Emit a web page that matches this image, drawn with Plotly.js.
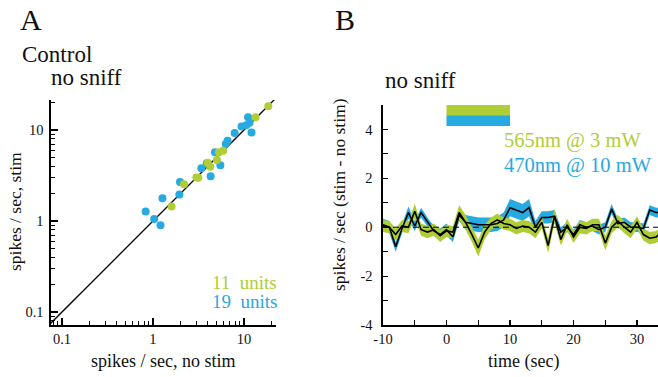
<!DOCTYPE html>
<html><head><meta charset="utf-8">
<script src="https://cdn.plot.ly/plotly-3.0.1.min.js"></script>
<style>html,body{margin:0;padding:0;background:#fff}#chart{width:658px;height:377px}</style>
</head><body><div id="chart"></div>
<script>
const W = 658, H = 377;
const GREEN = '#afcd35', BLUE = '#27a9e1';
const SERIF = '"Liberation Serif", "Times New Roman", serif';

// ---------- Panel A: scatter data ----------
const blueNoStim = [0.83, 1.03, 1.21, 1.27, 1.95, 1.98, 3.4, 4.3, 4.8, 5.5, 6.3, 6.6, 7.9, 9.4, 11.1, 10.6, 12.1, 11.5, 3.9];
const blueStim   = [1.27, 1.05, 0.90, 1.78, 1.95, 2.68, 3.8, 3.1, 5.7, 4.1, 7.0, 7.6, 9.3, 10.9, 13.8, 11.3, 9.4, 12.0, 4.3];
const greenNoStim = [1.6, 2.19, 3.0, 3.15, 4.0, 4.25, 5.05, 5.3, 5.9, 13.4, 18.5];
const greenStim   = [1.44, 2.53, 3.0, 2.98, 4.37, 3.94, 4.67, 5.7, 5.9, 13.8, 18.3];
const unityLine = [0.07, 22];
const logTickVals = [0.1, 1, 10];
const logTickText = ['0.1', '1', '10'];
const logMinorVals = [0.08, 0.09, 0.2, 0.3, 0.4, 0.5, 0.6, 0.7, 0.8, 0.9, 2, 3, 4, 5, 6, 7, 8, 9, 20];

// ---------- Panel B: time course ----------
const time = [-10,-9,-8,-7,-6,-5,-4,-3,-2,-1,0,1,2,3,4,5,6,7,8,9,10,11,12,13,14,15,16,17,18,19,20,21,22,23,24,25,26,27,28,29,30,31,32,33,34];
const blueMean = [0.1,0.0,-0.8,-0.05,0.6,0.05,0.6,0.2,-0.15,-0.3,-0.1,-0.4,0.5,0.2,0.15,0.1,0.1,0.1,0.15,0.3,0.8,0.7,0.6,0.8,0.0,0.4,0.4,0.45,-0.2,0.0,-0.3,0.1,0.0,0.05,-0.1,0.0,0.75,0.15,0.2,0.0,0.0,-0.05,0.7,0.6,0.6];
const blueSem  = [0.25,0.25,0.2,0.2,0.25,0.2,0.2,0.2,0.2,0.25,0.25,0.2,0.25,0.3,0.3,0.3,0.3,0.3,0.3,0.3,0.35,0.35,0.35,0.35,0.25,0.25,0.25,0.25,0.2,0.2,0.2,0.2,0.2,0.2,0.2,0.2,0.2,0.2,0.2,0.2,0.2,0.2,0.2,0.2,0.2];
const greenMean = [0.05,0.0,-0.3,0.05,0.0,0.65,-0.1,-0.2,-0.1,-0.35,-0.15,-0.2,0.6,0.2,-0.3,-0.85,-0.2,0.15,0.3,0.15,0.1,-0.05,0.05,0.0,-0.2,0.2,-0.75,0.45,-0.5,0.1,-0.4,0.0,-0.05,0.1,0.1,-0.65,0.0,0.25,0.0,-0.2,0.2,-0.3,-0.45,-0.4,-0.2];
const greenSem  = [0.25,0.25,0.25,0.25,0.25,0.3,0.25,0.25,0.25,0.25,0.25,0.25,0.3,0.3,0.3,0.35,0.3,0.25,0.25,0.25,0.25,0.25,0.25,0.25,0.25,0.25,0.3,0.3,0.25,0.25,0.25,0.25,0.25,0.25,0.25,0.3,0.25,0.25,0.25,0.25,0.25,0.25,0.25,0.25,0.25];
const stimWindow = [0, 10];
const xTickVals = [-10, 0, 10, 20, 30];
const xTickText = ['-10', '0', '10', '20', '30'];
const yTickVals = [-4, -2, 0, 2, 4];
const yTickText = ['-4', '-2', '0', '2', '4'];

const upper = (m, s) => m.map((v, i) => v + s[i]);
const lower = (m, s) => m.map((v, i) => v - s[i]);
const bandX = time.concat(time.slice().reverse());
const band = (m, s) => upper(m, s).concat(lower(m, s).reverse());

const traces = [
  {x: unityLine, y: unityLine, xaxis: 'x', yaxis: 'y', mode: 'lines', line: {color: '#000', width: 1.3}, hoverinfo: 'skip'},
  {x: blueNoStim, y: blueStim, xaxis: 'x', yaxis: 'y', mode: 'markers', marker: {color: BLUE, size: 8}},
  {x: greenNoStim, y: greenStim, xaxis: 'x', yaxis: 'y', mode: 'markers', marker: {color: GREEN, size: 8}},
  {x: bandX, y: band(blueMean, blueSem), xaxis: 'x2', yaxis: 'y2', mode: 'lines', fill: 'toself', fillcolor: BLUE, line: {width: 0}},
  {x: bandX, y: band(greenMean, greenSem), xaxis: 'x2', yaxis: 'y2', mode: 'lines', fill: 'toself', fillcolor: GREEN, line: {width: 0}},
  {x: [time[0], time[time.length - 1]], y: [0, 0], xaxis: 'x2', yaxis: 'y2', mode: 'lines', line: {color: '#000', width: 1, dash: '6px,4px'}},
  {x: time, y: blueMean, xaxis: 'x2', yaxis: 'y2', mode: 'lines', line: {color: '#000', width: 1.6}},
  {x: time, y: greenMean, xaxis: 'x2', yaxis: 'y2', mode: 'lines', line: {color: '#000', width: 1.6}}
];

const fx = p => p / W, fy = p => 1 - p / H;
const tf = {family: SERIF, size: 14.5, color: '#111'};
const ann = (text, x, y, size, color, extra) => Object.assign({
  text, x: fx(x), y: fy(y), xref: 'paper', yref: 'paper', xanchor: 'center', yanchor: 'middle',
  showarrow: false, font: {family: SERIF, size, color: color || '#111'}}, extra || {});

const layout = {
  width: W, height: H,
  margin: {l: 0, r: 0, t: 0, b: 0},
  paper_bgcolor: '#fff', plot_bgcolor: '#fff',
  showlegend: false,
  xaxis: {
    type: 'log', domain: [fx(51), fx(276)], range: [-1.121, 1.352], anchor: 'y',
    showline: true, linecolor: '#000', linewidth: 1.6, showgrid: false, zeroline: false,
    tickmode: 'array', tickvals: logTickVals, ticktext: logTickText,
    ticks: 'inside', ticklen: 7, tickwidth: 1.2, tickcolor: '#000', tickfont: tf, ticklabelstandoff: 0,
    minor: {tickmode: 'array', tickvals: logMinorVals, ticks: 'inside', ticklen: 4, tickwidth: 1, tickcolor: '#000'}
  },
  yaxis: {
    type: 'log', domain: [fy(325), fy(100)], range: [-1.143, 1.33], anchor: 'x',
    showline: true, linecolor: '#000', linewidth: 1.6, showgrid: false, zeroline: false,
    tickmode: 'array', tickvals: logTickVals, ticktext: logTickText,
    ticks: 'inside', ticklen: 7, tickwidth: 1.2, tickcolor: '#000', tickfont: tf, ticklabelstandoff: 3,
    minor: {tickmode: 'array', tickvals: logMinorVals, ticks: 'inside', ticklen: 4, tickwidth: 1, tickcolor: '#000'}
  },
  xaxis2: {
    domain: [fx(383), 1], range: [-10, 33.3], anchor: 'y2',
    showline: true, linecolor: '#000', linewidth: 1.6, showgrid: false, zeroline: false,
    tickmode: 'array', tickvals: xTickVals, ticktext: xTickText,
    ticks: 'inside', ticklen: 5, tickwidth: 1.2, tickcolor: '#000', tickfont: tf, ticklabelstandoff: 0,
    minor: {dtick: 5, ticks: 'inside', ticklen: 5, tickwidth: 1.2, tickcolor: '#000'}
  },
  yaxis2: {
    domain: [fy(325), fy(105)], range: [-4, 5], anchor: 'x2',
    showline: true, linecolor: '#000', linewidth: 1.6, showgrid: false, zeroline: false,
    tickmode: 'array', tickvals: yTickVals, ticktext: yTickText,
    ticks: 'inside', ticklen: 5, tickwidth: 1.2, tickcolor: '#000', tickfont: tf, ticklabelstandoff: 6,
    minor: {dtick: 1, ticks: 'inside', ticklen: 5, tickwidth: 1.2, tickcolor: '#000'}
  },
  shapes: [
    {type: 'rect', xref: 'x2', yref: 'y2', x0: stimWindow[0], x1: stimWindow[1], y0: 4.58, y1: 5.0, fillcolor: GREEN, line: {width: 0}},
    {type: 'rect', xref: 'x2', yref: 'y2', x0: stimWindow[0], x1: stimWindow[1], y0: 4.14, y1: 4.58, fillcolor: BLUE, line: {width: 0}}
  ],
  annotations: [
    ann('A', 31, 19, 30),
    ann('Control', 57, 55, 23),
    ann('no sniff', 86, 78, 23),
    ann('11  units', 244, 282, 19, GREEN),
    ann('19  units', 244, 301, 19, BLUE),
    ann('spikes / sec, no stim', 163, 361, 18),
    ann('spikes / sec, stim', 15, 212, 17.5, null, {textangle: -90}),
    ann('B', 345, 19, 30),
    ann('no sniff', 420, 80, 23),
    ann('565nm @ 3 mW', 572, 140, 20.5, GREEN),
    ann('470nm @ 10 mW', 578, 165, 20.5, BLUE),
    ann('time (sec)', 523, 361, 18),
    ann('spikes / sec (stim - no stim)', 339, 195, 17.5, null, {textangle: -90})
  ]
};

Plotly.newPlot('chart', traces, layout, {staticPlot: true, displayModeBar: false});
</script>
</body></html>
